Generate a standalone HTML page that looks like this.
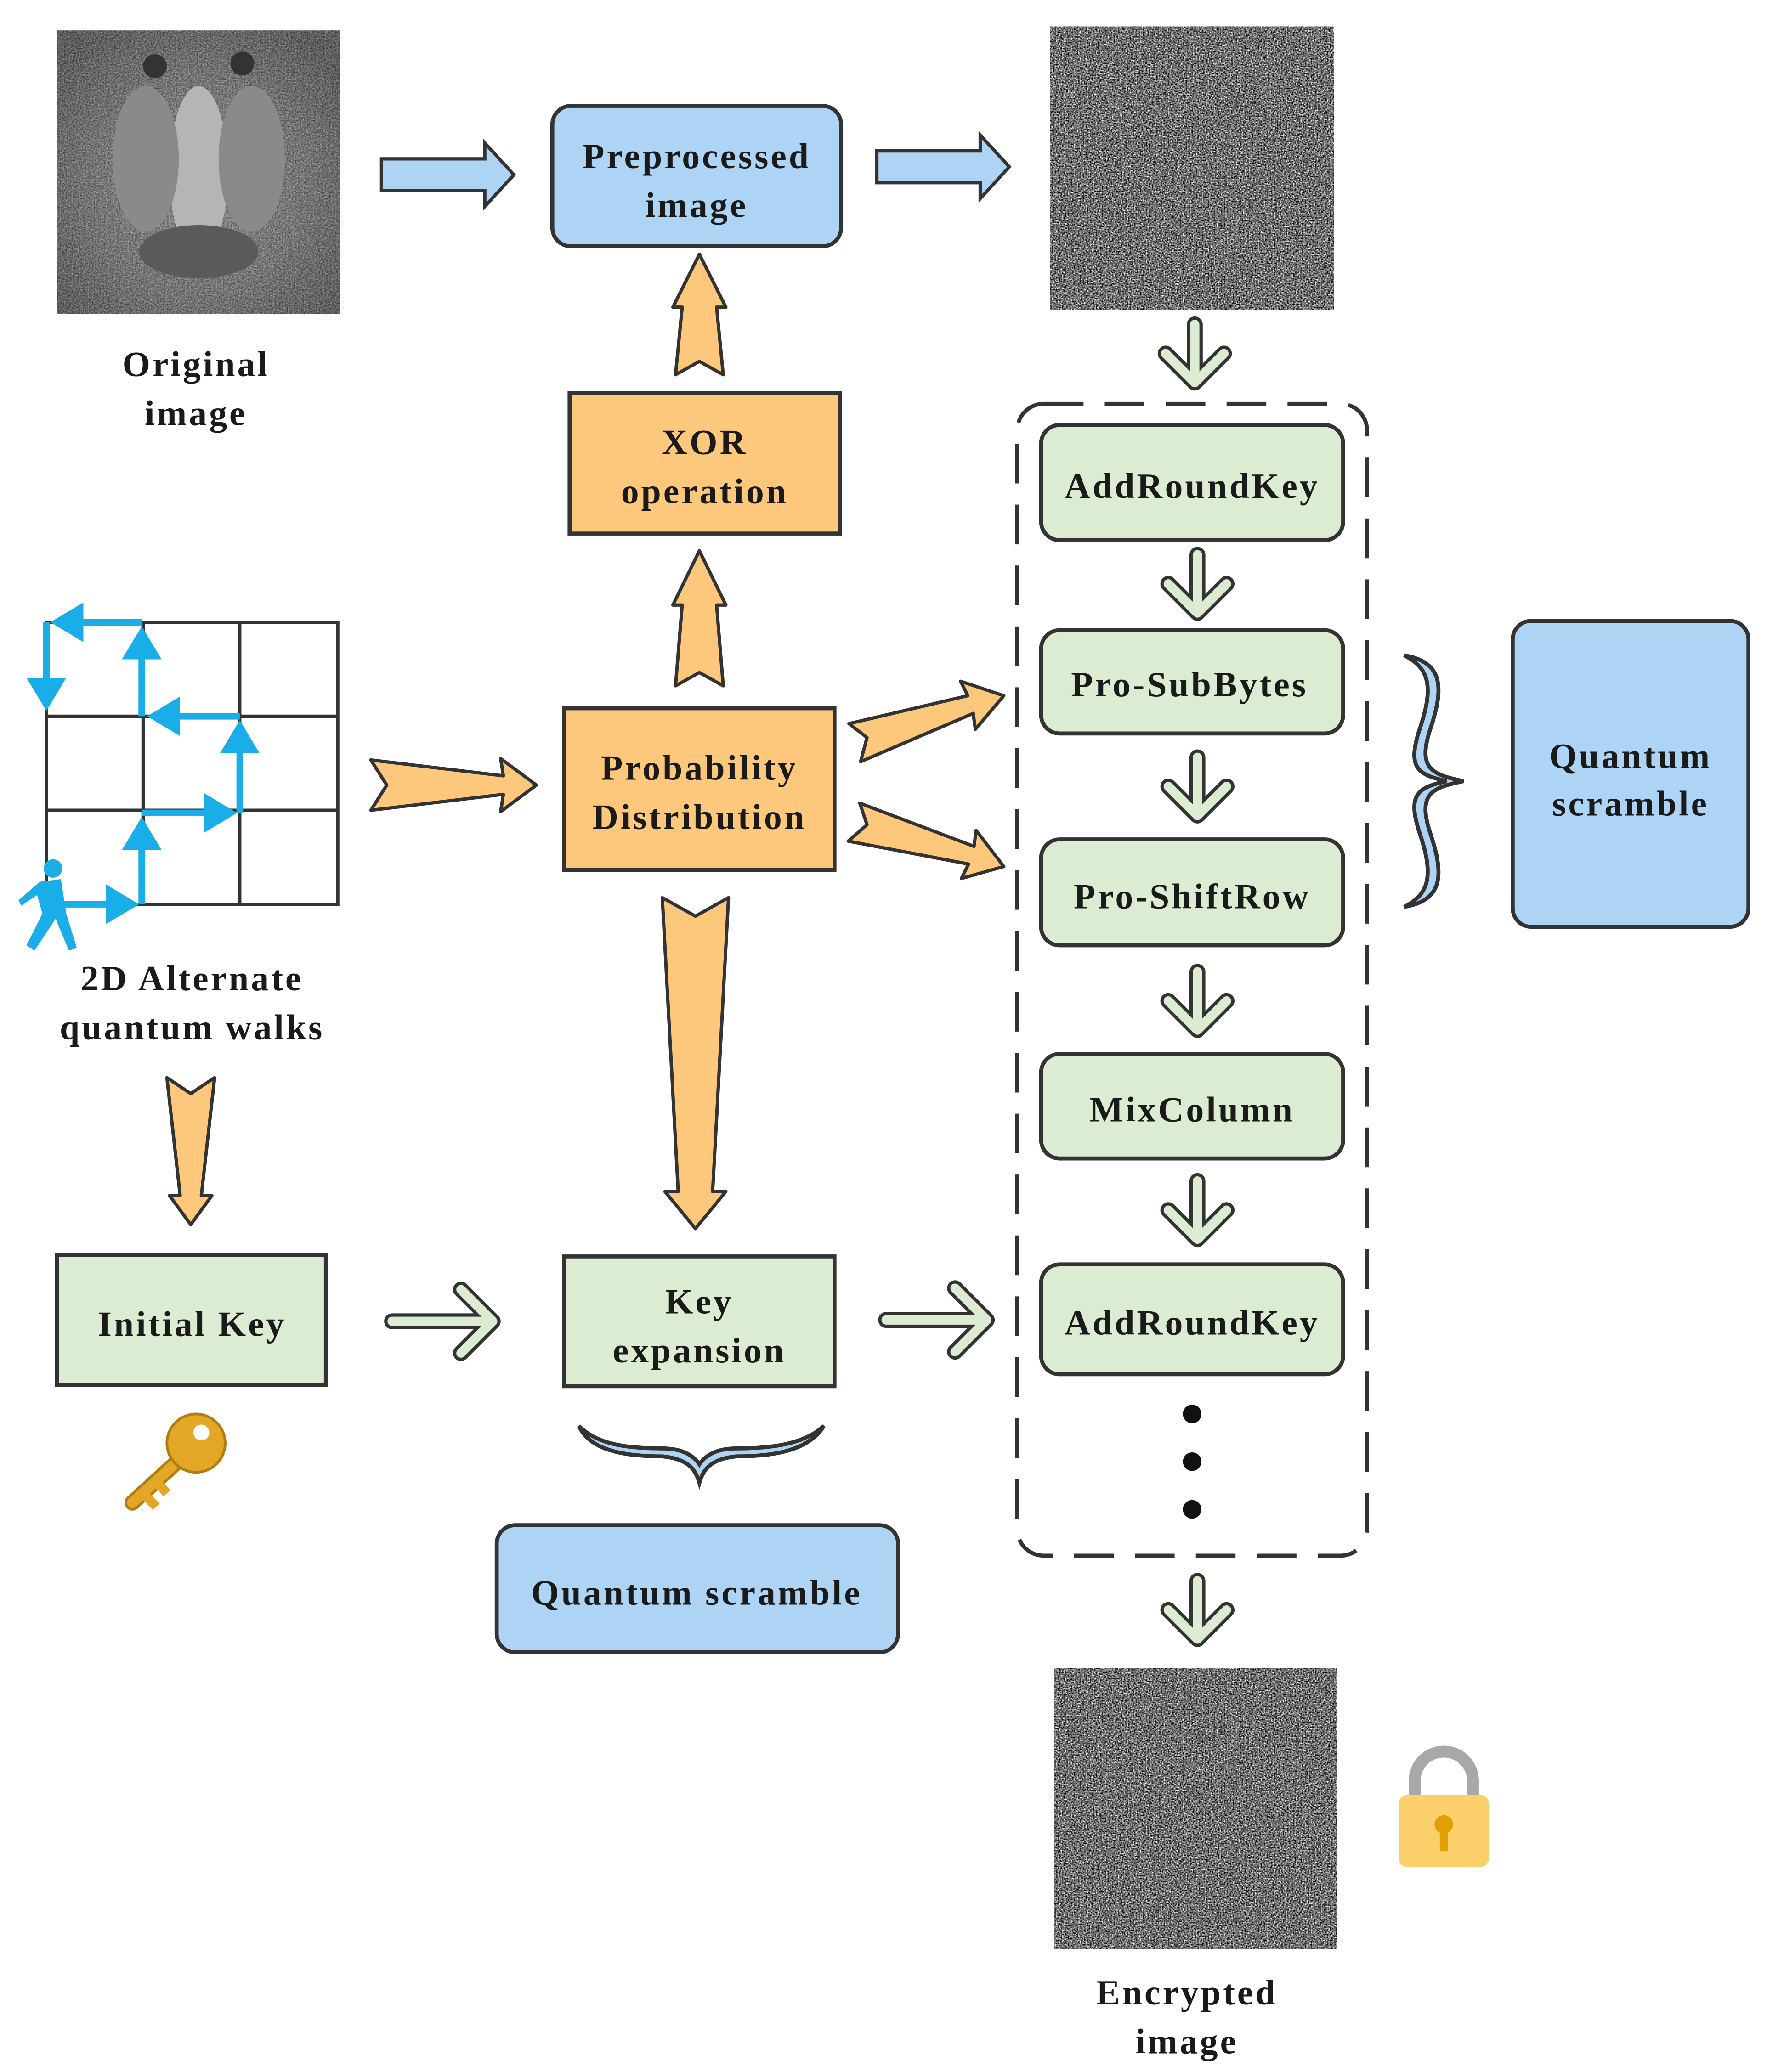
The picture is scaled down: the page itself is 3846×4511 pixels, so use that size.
<!DOCTYPE html>
<html><head><meta charset="utf-8"><style>
html,body{margin:0;padding:0;background:#fff}
svg{display:block}
text{font-family:"Liberation Serif",serif;font-weight:bold;fill:#1a1a1a;letter-spacing:1.7px}
</style></head><body>
<svg width="3846" height="4511" viewBox="0 0 1334 1565" preserveAspectRatio="none" xmlns="http://www.w3.org/2000/svg">
<defs>
<filter id="noise" x="0" y="0" width="100%" height="100%" color-interpolation-filters="sRGB">
<feTurbulence type="fractalNoise" baseFrequency="0.9" numOctaves="2" seed="3"/>
<feColorMatrix type="matrix" values="0.33 0.33 0.33 0 0  0.33 0.33 0.33 0 0  0.33 0.33 0.33 0 0  0 0 0 0 1"/>
<feComponentTransfer><feFuncR type="linear" slope="3.2" intercept="-1.15"/><feFuncG type="linear" slope="3.2" intercept="-1.15"/><feFuncB type="linear" slope="3.2" intercept="-1.15"/></feComponentTransfer>
</filter>
<radialGradient id="bab" cx="50%" cy="55%" r="65%"><stop offset="0" stop-color="#9a9a9a"/><stop offset="0.6" stop-color="#777"/><stop offset="1" stop-color="#555"/></radialGradient>
<marker id="bh" markerWidth="6" markerHeight="6" refX="4" refY="3" orient="auto" markerUnits="strokeWidth"><path d="M0,0 L5,3 L0,6 z" fill="#1aaee8"/></marker>
<g id="garr"><path d="M0,-22 L0,22 M-22,0 L0,22 L22,0" fill="none" stroke="#333" stroke-width="12" stroke-linecap="round" stroke-linejoin="round"/><path d="M0,-22 L0,22 M-22,0 L0,22 L22,0" fill="none" stroke="#dbecd3" stroke-width="7" stroke-linecap="round" stroke-linejoin="round"/></g>
<g id="harr"><path d="M-38,0 L38,0 M14,-24 L38,0 L14,24" fill="none" stroke="#333" stroke-width="12" stroke-linecap="round" stroke-linejoin="round"/><path d="M-38,0 L38,0 M14,-24 L38,0 L14,24" fill="none" stroke="#dbecd3" stroke-width="7" stroke-linecap="round" stroke-linejoin="round"/></g>
</defs>

<!-- baboon -->
<rect x="43" y="23" width="214" height="214" fill="url(#bab)"/>
<rect x="43" y="23" width="214" height="214" filter="url(#noise)" opacity="0.35"/>
<ellipse cx="150" cy="130" rx="22" ry="65" fill="#b5b5b5"/>
<ellipse cx="110" cy="120" rx="25" ry="55" fill="#8a8a8a"/>
<ellipse cx="190" cy="120" rx="25" ry="55" fill="#8a8a8a"/>
<ellipse cx="150" cy="190" rx="45" ry="20" fill="#5a5a5a"/>
<circle cx="117" cy="50" r="9" fill="#333"/><circle cx="183" cy="48" r="9" fill="#333"/>
<text x="148" y="284" font-size="27" text-anchor="middle">Original</text>
<text x="148" y="321" font-size="27" text-anchor="middle">image</text>

<!-- blue arrows -->
<polygon points="288,120 366,120 366,108 388,132 366,156 366,144 288,144" fill="#aed4f5" stroke="#333" stroke-width="2.5"/>
<polygon points="662,114 740,114 740,102 762,126 740,150 740,138 662,138" fill="#aed4f5" stroke="#333" stroke-width="2.5"/>

<rect x="417" y="80" width="218" height="106" rx="14" fill="#aed4f5" stroke="#333" stroke-width="3"/>
<text x="526" y="127" font-size="27" text-anchor="middle">Preprocessed</text>
<text x="526" y="164" font-size="27" text-anchor="middle">image</text>

<rect x="793" y="20" width="214" height="214" filter="url(#noise)"/>
<rect x="796" y="1260" width="213" height="212" filter="url(#noise)"/>

<use href="#garr" x="902" y="267"/>

<rect x="768" y="305" width="264" height="870" rx="20" fill="none" stroke="#333" stroke-width="3" stroke-dasharray="30,16"/>

<rect x="786" y="321" width="228" height="87" rx="14" fill="#dbecd3" stroke="#333" stroke-width="3"/>
<text x="900" y="376" font-size="27" text-anchor="middle">AddRoundKey</text>
<use href="#garr" x="904" y="441"/>
<rect x="786" y="476" width="228" height="78" rx="14" fill="#dbecd3" stroke="#333" stroke-width="3"/>
<text x="898" y="526" font-size="27" text-anchor="middle">Pro-SubBytes</text>
<use href="#garr" x="904" y="594"/>
<rect x="786" y="634" width="228" height="80" rx="14" fill="#dbecd3" stroke="#333" stroke-width="3"/>
<text x="900" y="686" font-size="27" text-anchor="middle">Pro-ShiftRow</text>
<use href="#garr" x="904" y="756"/>
<rect x="786" y="796" width="228" height="79" rx="14" fill="#dbecd3" stroke="#333" stroke-width="3"/>
<text x="900" y="847" font-size="27" text-anchor="middle">MixColumn</text>
<use href="#garr" x="904" y="914"/>
<rect x="786" y="955" width="228" height="83" rx="14" fill="#dbecd3" stroke="#333" stroke-width="3"/>
<text x="900" y="1008" font-size="27" text-anchor="middle">AddRoundKey</text>
<circle cx="900" cy="1068" r="7" fill="#111"/><circle cx="900" cy="1104" r="7" fill="#111"/><circle cx="900" cy="1140" r="7" fill="#111"/>
<use href="#garr" x="904" y="1216"/>

<text x="896" y="1514" font-size="27" text-anchor="middle">Encrypted</text>
<text x="896" y="1551" font-size="27" text-anchor="middle">image</text>

<path d="M1068,1360 L1068,1345 A22,22 0 0 1 1112,1345 L1112,1360" fill="none" stroke="#a8a8a8" stroke-width="9"/>
<rect x="1056" y="1356" width="68" height="54" rx="6" fill="#fbcf6a"/>
<circle cx="1090" cy="1378" r="7" fill="#e0a000"/><rect x="1087" y="1380" width="6" height="18" fill="#e0a000"/>

<path d="M1060,495 C1090,500 1090,520 1080,550 C1070,580 1080,585 1105,590 C1080,595 1070,600 1080,630 C1090,660 1090,680 1060,685 C1080,675 1082,660 1072,630 C1062,600 1070,595 1092,590 C1070,585 1062,580 1072,550 C1082,520 1080,505 1060,495 Z" fill="#aed4f5" stroke="#333" stroke-width="3"/>
<rect x="1142" y="469" width="178" height="231" rx="14" fill="#aed4f5" stroke="#333" stroke-width="3"/>
<text x="1231" y="580" font-size="27" text-anchor="middle">Quantum</text>
<text x="1231" y="616" font-size="27" text-anchor="middle">scramble</text>

<rect x="430" y="297" width="204" height="106" fill="#fdc87c" stroke="#333" stroke-width="3"/>
<text x="532" y="343" font-size="27" text-anchor="middle">XOR</text>
<text x="532" y="380" font-size="27" text-anchor="middle">operation</text>
<rect x="426" y="535" width="204" height="122" fill="#fdc87c" stroke="#333" stroke-width="3"/>
<text x="528" y="589" font-size="27" text-anchor="middle">Probability</text>
<text x="528" y="626" font-size="27" text-anchor="middle">Distribution</text>

<g fill="#fdc87c" stroke="#333" stroke-width="2.5" stroke-linejoin="round">
<polygon points="510,283 515,232 508,232 528,192 548,232 541,232 546,283 528,273"/>
<polygon points="510,518 515,457 508,457 528,416 548,457 541,457 546,518 528,508"/>
<polygon points="280,574 380,586 378,573 405,593 378,613 380,600 280,612 292,593"/>
<polygon points="500,678 525,692 550,678 538,900 548,900 525,928 502,900 512,900"/>
<polygon points="126,814 144,826 162,814 152,903 160,903 144,925 128,903 136,903"/>
<g transform="translate(645,560) rotate(-17)"><polygon points="0,-14 92,-8 90,-20 118,0 90,18 92,6 0,16 10,0"/></g>
<g transform="translate(645,620) rotate(17)"><polygon points="0,-14 92,-8 90,-20 118,0 90,18 92,6 0,16 10,0"/></g>
</g>

<g stroke="#333" stroke-width="2.5" fill="none">
<rect x="35" y="470" width="220" height="213"/>
<line x1="108" y1="470" x2="108" y2="683"/><line x1="181" y1="470" x2="181" y2="683"/>
<line x1="35" y1="541" x2="255" y2="541"/><line x1="35" y1="612" x2="255" y2="612"/>
</g>
<g stroke="#1aaee8" stroke-width="5" fill="none" marker-end="url(#bh)">
<line x1="35" y1="683" x2="100" y2="683"/>
<line x1="107" y1="683" x2="107" y2="622"/>
<line x1="107" y1="614" x2="174" y2="614"/>
<line x1="181" y1="614" x2="181" y2="549"/>
<line x1="181" y1="541" x2="116" y2="541"/>
<line x1="107" y1="541" x2="107" y2="478"/>
<line x1="107" y1="470" x2="43" y2="470"/>
<line x1="35" y1="470" x2="35" y2="532"/>
</g>
<g fill="#1aaee8"><circle cx="40" cy="656" r="7"/><path d="M30,666 L46,664 L50,690 L58,716 L52,718 L42,694 L26,718 L20,714 L32,690 L28,676 L16,684 L14,680 Z"/></g>
<text x="145" y="748" font-size="27" text-anchor="middle">2D Alternate</text>
<text x="145" y="785" font-size="27" text-anchor="middle">quantum walks</text>

<rect x="43" y="948" width="203" height="98" fill="#dbecd3" stroke="#333" stroke-width="3"/>
<text x="145" y="1009" font-size="27" text-anchor="middle">Initial Key</text>
<g transform="translate(-10,0)">
<path d="M170,1080 L110,1135" stroke="#b07d10" stroke-width="12" stroke-linecap="round"/>
<path d="M170,1080 L110,1135" stroke="#e3a626" stroke-width="8" stroke-linecap="round"/>
<path d="M118,1128 L128,1138 M128,1119 L136,1128" stroke="#e3a626" stroke-width="7"/>
<circle cx="158" cy="1090" r="22" fill="#e3a626" stroke="#b07d10" stroke-width="2"/>
<circle cx="162" cy="1082" r="6" fill="#fff"/></g>
<use href="#harr" x="334" y="998"/>
<rect x="426" y="949" width="204" height="98" fill="#dbecd3" stroke="#333" stroke-width="3"/>
<text x="528" y="992" font-size="27" text-anchor="middle">Key</text>
<text x="528" y="1029" font-size="27" text-anchor="middle">expansion</text>
<use href="#harr" x="707" y="997"/>

<path d="M437,1077 C445,1095 470,1100 500,1100 C520,1102 525,1110 528,1120 C531,1110 536,1102 556,1100 C586,1100 611,1095 622,1077 C608,1090 585,1094 556,1094 C540,1094 532,1100 528,1106 C524,1100 516,1094 500,1094 C470,1094 450,1090 437,1077 Z" fill="#aed4f5" stroke="#333" stroke-width="3"/>
<rect x="375" y="1152" width="303" height="96" rx="14" fill="#aed4f5" stroke="#333" stroke-width="3"/>
<text x="526" y="1212" font-size="27" text-anchor="middle">Quantum scramble</text>
</svg>
</body></html>
